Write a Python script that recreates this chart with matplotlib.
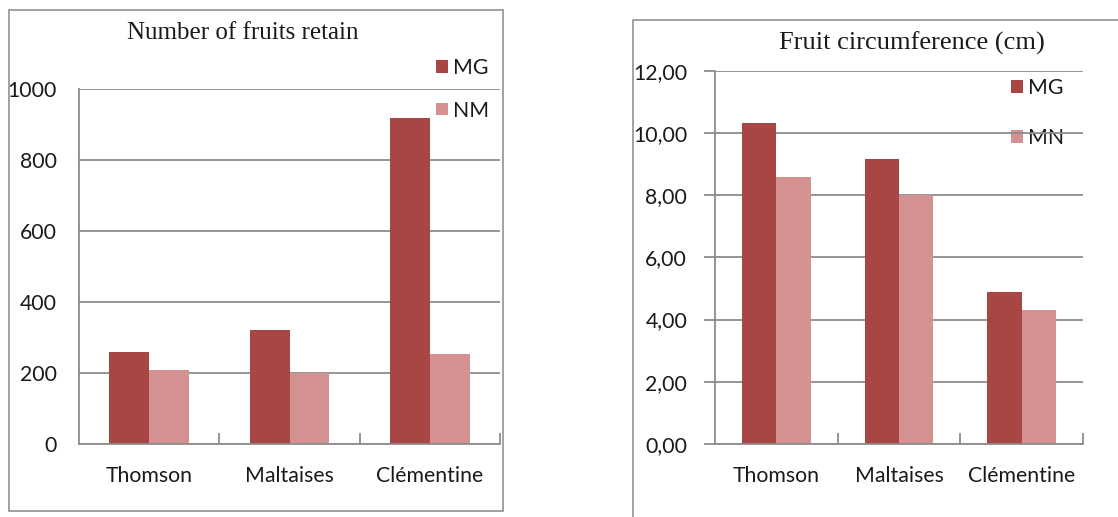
import numpy as np
import matplotlib
matplotlib.use('Agg')
import matplotlib.pyplot as plt
from matplotlib.patches import Rectangle
from matplotlib.lines import Line2D
from matplotlib.ticker import FuncFormatter

varieties = ["Thomson", "Maltaises", "Clémentine"]

# number of fruits retained per variety
fruits_mg = [259, 321, 918]
fruits_nm = [208, 201, 253]

# fruit circumference (cm)
circ_mg = [10.33, 9.17, 4.89]
circ_mn = [8.59, 8.00, 4.31]

dark_red = '#A84644'
light_red = '#D39191'
grid_gray = '#8C8C8C'
text_col = '#1A1A1A'
sans = ['Lato', 'DejaVu Sans']
serif = ['Liberation Serif', 'DejaVu Serif']
fs = 15.3

W, H = 1118, 517
fig = plt.figure(figsize=(W / 100, H / 100), dpi=100)


def px_rect(x0, y0, x1, y1):
    # pixel box (top-left origin) -> figure fraction rect
    return [x0 / W, 1 - y1 / H, (x1 - x0) / W, (y1 - y0) / H]


def bar_panel(ax, mg, other, labels, ymax, ystep, fmt, bar_w):
    x = np.arange(len(varieties))
    ax.set_axisbelow(True)
    ax.bar(x - bar_w / 2, mg, bar_w, color=dark_red, label=labels[0], zorder=2)
    ax.bar(x + bar_w / 2, other, bar_w, color=light_red, label=labels[1], zorder=2)
    ax.set_xlim(-0.5, len(varieties) - 0.5)
    ax.set_ylim(0, ymax)
    ax.set_yticks(np.arange(0, ymax + ystep / 2, ystep))
    ax.yaxis.set_major_formatter(FuncFormatter(fmt))
    ax.grid(axis='y', color=grid_gray, lw=1.3)
    ax.set_xticks(x)
    ax.set_xticklabels(varieties, fontfamily=sans, fontsize=fs)
    ax.set_xticks(np.arange(0.5, len(varieties), 1.0), minor=True)
    ax.tick_params(axis='x', which='major', length=0, pad=16)
    ax.tick_params(axis='x', which='minor', direction='in', length=8,
                   color=grid_gray, width=1.3)
    for s in ('top', 'right'):
        ax.spines[s].set_visible(False)
    for s in ('left', 'bottom'):
        ax.spines[s].set_color(grid_gray)
        ax.spines[s].set_linewidth(1.3)
    for t in ax.get_yticklabels():
        t.set_fontfamily(sans)
        t.set_fontsize(fs)
        t.set_color(text_col)
    for t in ax.get_xticklabels():
        t.set_color(text_col)


def add_legend(ax, x_px, y_px, spacing):
    leg = ax.legend(loc='upper left', bbox_to_anchor=(x_px / W, 1 - y_px / H),
                    bbox_transform=fig.transFigure, frameon=False,
                    prop={'family': sans, 'size': fs}, handlelength=0.55,
                    handleheight=0.55, handletextpad=0.25,
                    labelspacing=spacing, borderpad=0, borderaxespad=0)
    for t in leg.get_texts():
        t.set_color(text_col)
    return leg


# left panel: fruits retained
ax1 = fig.add_axes(px_rect(79, 89, 500, 444))
bar_panel(ax1, fruits_mg, fruits_nm, ('MG', 'NM'), 1000, 200,
          lambda v, p: f"{v:.0f}", 0.285)
ax1.tick_params(axis='y', length=0, pad=16)
add_legend(ax1, 436, 58, 1.06)
fig.text(243 / W, 1 - 33 / H, "Number of fruits retain", ha='center',
         va='center', fontfamily=serif, fontsize=18, color=text_col)
fig.patches.append(Rectangle((9 / W, 1 - 511 / H), 494 / W, 501 / H,
                             transform=fig.transFigure, fill=False,
                             edgecolor='#9A9A9A', lw=1.3))

# right panel: fruit circumference
ax2 = fig.add_axes(px_rect(715, 70.7, 1083, 444))
bar_panel(ax2, circ_mg, circ_mn, ('MG', 'MN'), 12, 2,
          lambda v, p: f"{v:.2f}".replace('.', ','), 0.28)
ax2.tick_params(axis='y', length=8, color=grid_gray, width=1.3, pad=12)
ax2.set_xticks(np.arange(0.5, len(varieties) + 0.5, 1.0), minor=True)
ax2.tick_params(axis='x', which='minor', direction='in', length=8,
                color=grid_gray, width=1.3)
leg2 = add_legend(ax2, 1011, 78, 1.4)
# gridlines run across the legend text here
leg2.set_zorder(0.4)
fig.text(912 / W, 1 - 43 / H, "Fruit circumference (cm)", ha='center',
         va='center', fontfamily=serif, fontsize=19, color=text_col)
fig.lines.append(Line2D([633 / W, 633 / W, 1.0], [0.0, 1 - 20 / H, 1 - 20 / H],
                        transform=fig.transFigure, color='#9A9A9A', lw=1.3))

fig.savefig('out.png', dpi=100)
